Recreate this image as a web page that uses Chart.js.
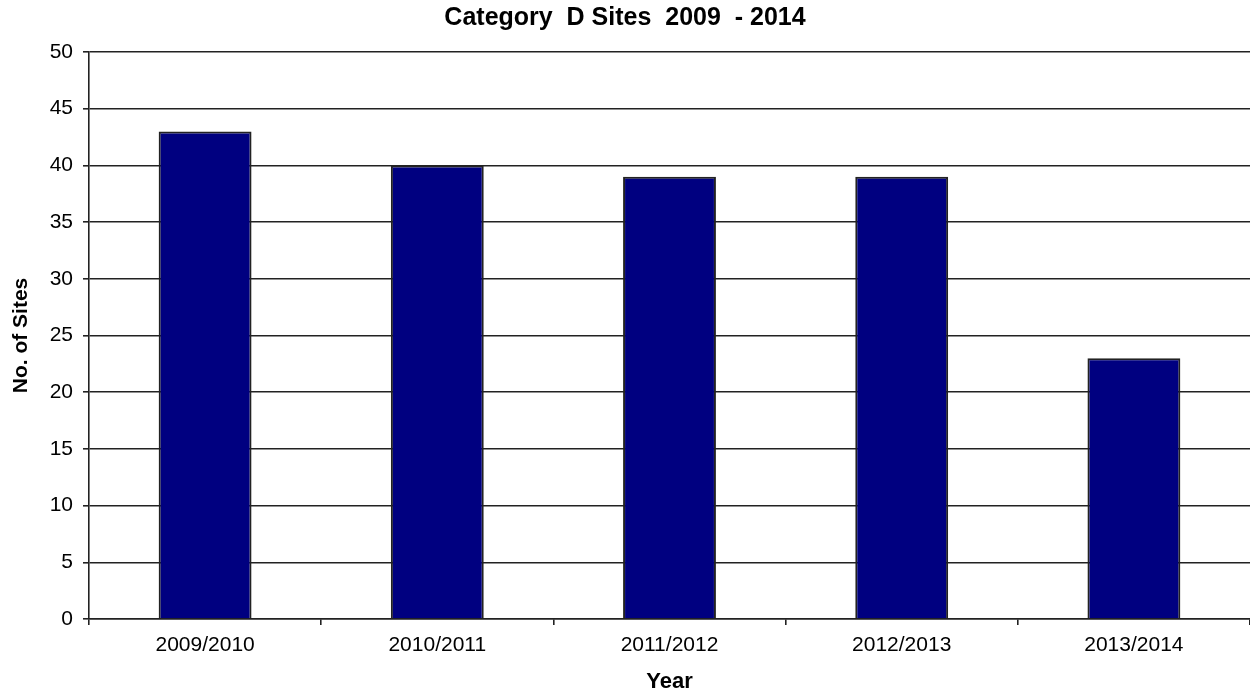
<!DOCTYPE html>
<html>
<head>
<meta charset="utf-8">
<script src="https://cdn.jsdelivr.net/npm/chart.js@4"></script>
<style>
  body { margin: 0; background: #fff; }
  #wrap { width: 1250px; height: 693px; }
</style>
</head>
<body>
<div id="wrap"><canvas id="myChart"></canvas></div>
<script>
// data
const years = ['2009/2010', '2010/2011', '2011/2012', '2012/2013', '2013/2014'];
const sites = [43, 40, 39, 39, 23];
const yMin = 0, yMax = 50, yStep = 5;

const font = 'Arial, "Liberation Sans", sans-serif';
const lineCol = '#222';

const data = {
  labels: years,
  datasets: [{
    label: 'No. of Sites',
    data: sites,
    backgroundColor: '#000080',
    borderColor: '#222',
    borderWidth: 2,
    barPercentage: 0.4,
    categoryPercentage: 1
  }]
};

const config = {
  type: 'bar',
  data,
  options: {
    responsive: true,
    maintainAspectRatio: false,
    animation: false,
    layout: { padding: 0 },
    plugins: {
      legend: { display: false },
      tooltip: { enabled: false },
      title: {
        display: true,
        text: 'Category  D Sites  2009  - 2014',
        color: '#000',
        font: { family: font, size: 25, weight: 'bold', lineHeight: 1.2 },
        padding: { top: 3, bottom: 19 }
      }
    },
    scales: {
      x: {
        afterFit: s => { s.height = 74; },
        grid: { display: true, drawOnChartArea: false, drawTicks: true, tickLength: 6, color: lineCol, lineWidth: 1.6, offset: true },
        border: { display: true, color: lineCol, width: 1.6 },
        ticks: { color: '#000', padding: 8, font: { family: font, size: 21 }, maxRotation: 0 },
        title: {
          display: true, text: 'Year', color: '#000',
          font: { family: font, size: 22, weight: 'bold', lineHeight: 1 },
          padding: { top: 0, bottom: 0 }
        }
      },
      y: {
        min: yMin, max: yMax,
        afterFit: s => { s.width = 89; },
        grid: { color: lineCol, lineWidth: 1.6, tickLength: 6, drawTicks: true },
        border: { display: true, color: lineCol, width: 1.6 },
        ticks: { stepSize: yStep, color: '#000', padding: 10, font: { family: font, size: 21 } },
        title: {
          display: true, text: 'No. of Sites', color: '#000',
          font: { family: font, size: 21, weight: 'bold', lineHeight: 1.2 },
          padding: { top: 9, bottom: 0 }
        }
      }
    }
  }
};

const myChart = new Chart(document.getElementById('myChart'), config);
</script>
</body>
</html>
